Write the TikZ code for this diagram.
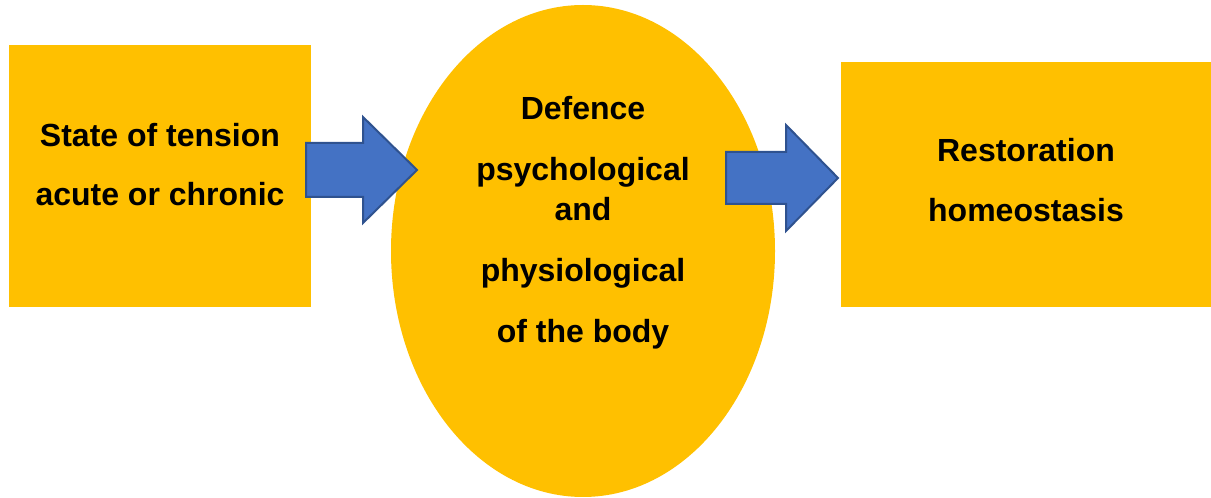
\documentclass[tikz,border=0pt]{standalone}
\usepackage{fontspec}
\usetikzlibrary{shapes.geometric}
\setmainfont{Liberation Sans}
\definecolor{boxyellow}{HTML}{FFC000}
\definecolor{arrowblue}{HTML}{4472C4}
\definecolor{arrowedge}{HTML}{2F528F}
\begin{document}
\begin{tikzpicture}[x=0.75pt,y=-0.75pt,
  panel/.style={fill=boxyellow,draw=none},
  lbl/.style={font=\fontsize{24}{28}\selectfont\bfseries,anchor=base,inner sep=0pt,text=black},
  blockarrow/.style={fill=arrowblue,draw=arrowedge,line width=1.5pt,line join=miter}]
\useasboundingbox (0,0) rectangle (1211,498);
% shapes
\fill[panel] (9,45) rectangle (311,307);
\node[panel,ellipse,minimum width=288pt,minimum height=369pt,inner sep=0pt] (defence) at (583,251) {};
\fill[panel] (841,62) rectangle (1211,307);
\coordinate (state) at (160,176);
\coordinate (restore) at (1026,184);
% arrows
\draw[blockarrow] (306,143) -- (363,143) -- (363,117) -- (417,170) -- (363,223) -- (363,197) -- (306,197) -- cycle;
\draw[blockarrow] (726,152) -- (786,152) -- (786,125) -- (838,178) -- (786,231) -- (786,204) -- (726,204) -- cycle;
% texts
\node[lbl] (t1) at (160,147) {State of tension};
\node[lbl] (t2) at (160,206) {acute or chronic};
\node[lbl] (e1) at (583,120) {Defence};
\node[lbl] (e2) at (583,181) {psychological};
\node[lbl] (e3) at (583,221) {and};
\node[lbl] (e4) at (583,282) {physiological};
\node[lbl] (e5) at (583,343) {of the body};
\node[lbl] (r1) at (1026,162) {Restoration};
\node[lbl] (r2) at (1026,222) {homeostasis};
\end{tikzpicture}
\end{document}
